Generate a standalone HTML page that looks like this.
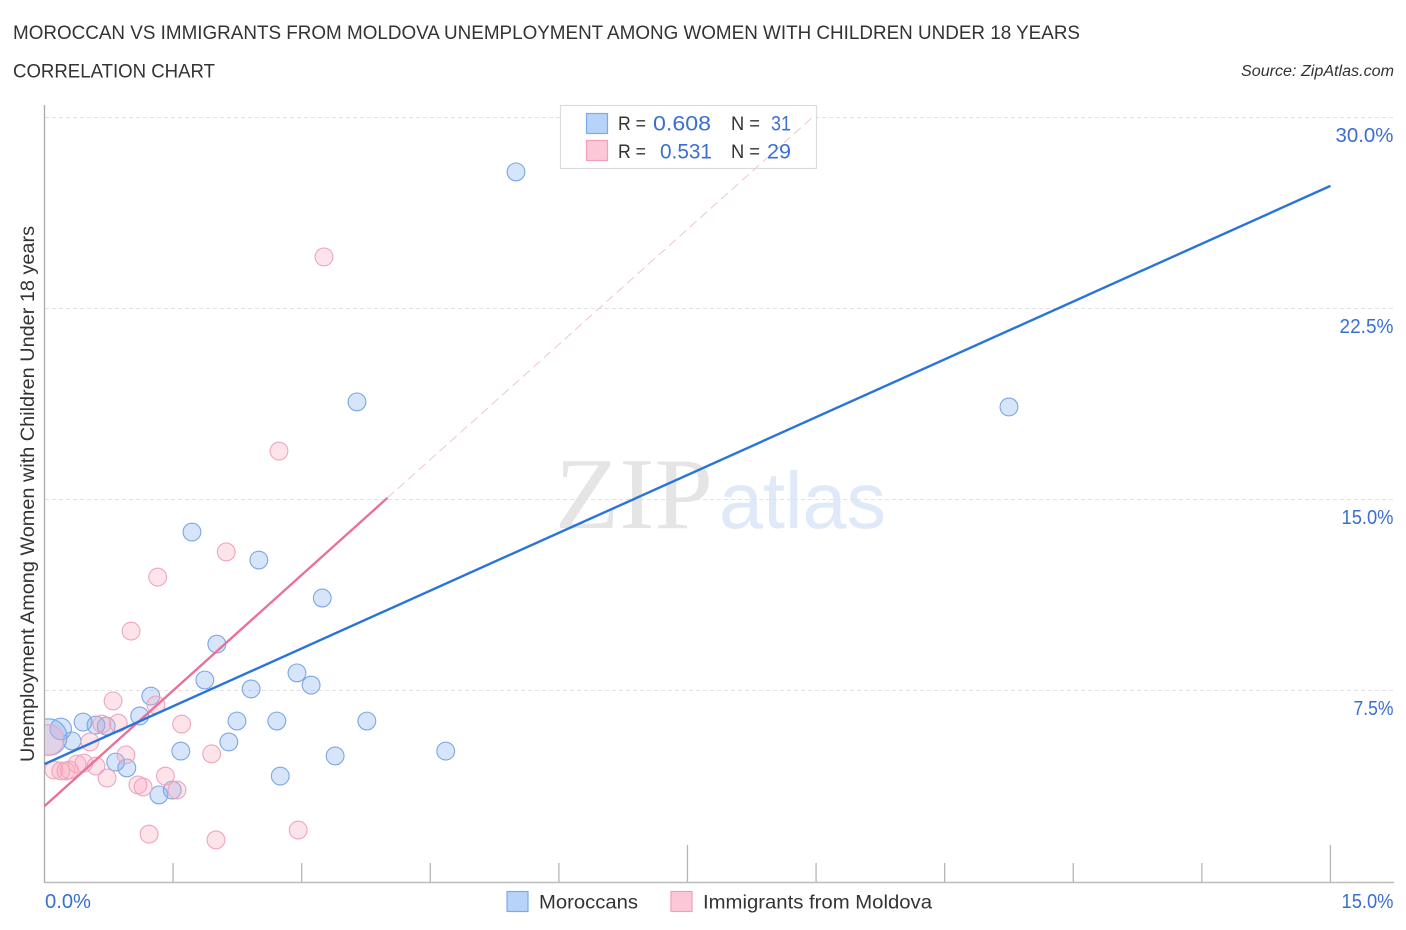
<!DOCTYPE html>
<html lang="en">
<head>
<meta charset="utf-8">
<title>Moroccan vs Immigrants from Moldova correlation chart</title>
<style>
html,body{margin:0;padding:0;background:#fff;width:1406px;height:930px;overflow:hidden}
svg{display:block}
text{font-family:"Liberation Sans",sans-serif}
</style>
</head>
<body>
<svg id="chart" xmlns="http://www.w3.org/2000/svg" width="1406" height="930" viewBox="0 0 1406 930">
  <rect x="0" y="0" width="1406" height="930" fill="#fff"/>
  <text x="13" y="39" font-size="19.5" fill="#333" textLength="1067" lengthAdjust="spacingAndGlyphs">MOROCCAN VS IMMIGRANTS FROM MOLDOVA UNEMPLOYMENT AMONG WOMEN WITH CHILDREN UNDER 18 YEARS</text>
  <text x="13" y="77.5" font-size="19.5" fill="#333" textLength="202" lengthAdjust="spacingAndGlyphs">CORRELATION CHART</text>
  <text x="1241" y="76" font-size="15.5" font-style="italic" fill="#333" textLength="153" lengthAdjust="spacingAndGlyphs">Source: ZipAtlas.com</text>
  <text transform="translate(34 762) rotate(-90)" x="0" y="0" font-size="19" fill="#333" textLength="536" lengthAdjust="spacingAndGlyphs">Unemployment Among Women with Children Under 18 years</text>

  <g>
    <text x="555" y="528" font-size="102" fill="#e5e5e5" style="font-family:'Liberation Serif',serif" textLength="158" lengthAdjust="spacingAndGlyphs">ZIP</text>
    <text x="719" y="528" font-size="80" fill="#dfe9f8" textLength="167" lengthAdjust="spacingAndGlyphs">atlas</text>
  </g>

  <g id="grid"></g>
  <rect x="560.5" y="105.5" width="256" height="63" fill="#fff" stroke="#dcdcdc" stroke-width="1.2"/>
  <g id="axes"></g>
  <g id="points"></g>
  <g id="trends"></g>
  <g id="labels"></g>

  <g>
    <rect x="586.5" y="113.5" width="21" height="20" fill="#b7d3f8" stroke="#7daae8" stroke-width="1.2"/>
    <rect x="586.5" y="140.5" width="21" height="20" fill="#fcc8d8" stroke="#f0a0bb" stroke-width="1.2"/>
    <text x="618" y="130" font-size="19.5" fill="#333" textLength="28" lengthAdjust="spacingAndGlyphs">R =</text>
    <text x="653" y="130.5" font-size="21" fill="#3a6fd0" textLength="58" lengthAdjust="spacingAndGlyphs">0.608</text>
    <text x="731" y="130" font-size="19.5" fill="#333" textLength="29" lengthAdjust="spacingAndGlyphs">N =</text>
    <text x="771" y="130.5" font-size="21" fill="#3a6fd0" textLength="20" lengthAdjust="spacingAndGlyphs">31</text>
    <text x="618" y="158" font-size="19.5" fill="#333" textLength="28" lengthAdjust="spacingAndGlyphs">R =</text>
    <text x="660" y="158.5" font-size="21" fill="#3a6fd0" textLength="52" lengthAdjust="spacingAndGlyphs">0.531</text>
    <text x="731" y="158" font-size="19.5" fill="#333" textLength="29" lengthAdjust="spacingAndGlyphs">N =</text>
    <text x="767" y="158.5" font-size="21" fill="#3a6fd0" textLength="24" lengthAdjust="spacingAndGlyphs">29</text>
  </g>

  <g>
    <rect x="507" y="891.5" width="21" height="20" fill="#b7d3f8" stroke="#7daae8" stroke-width="1.2"/>
    <text x="539" y="908.5" font-size="19.5" fill="#333" textLength="99" lengthAdjust="spacingAndGlyphs">Moroccans</text>
    <rect x="671" y="891.5" width="21" height="20" fill="#fcc8d8" stroke="#f0a0bb" stroke-width="1.2"/>
    <text x="703" y="908.5" font-size="19.5" fill="#333" textLength="229" lengthAdjust="spacingAndGlyphs">Immigrants from Moldova</text>
  </g>
</svg>
<script>
const yTickValues = [7.5, 15, 22.5, 30];
const yTickLabels = ["7.5%", "15.0%", "22.5%", "30.0%"];
const xTickValues = [1.5, 3, 4.5, 6, 7.5, 9, 10.5, 12, 13.5, 15];
const xMajorTicks = [7.5, 15];
const xEndLabels = ["0.0%", "15.0%"];

const moroccanX = [5.50, 11.25, 3.645, 1.72, 2.50, 3.24, 2.01, 1.87, 2.945, 3.11, 2.41, 1.24, 1.11, 0.45, 0.60, 0.72, 2.245, 2.71, 3.76, 0.19, 0.05, 0.32, 2.15, 1.59, 4.68, 3.39, 0.83, 0.96, 2.75, 1.335, 1.49];
const moroccanY = [27.88, 18.65, 18.85, 13.74, 12.64, 11.15, 9.34, 7.93, 8.21, 7.73, 7.58, 7.30, 6.52, 6.28, 6.16, 6.12, 6.32, 6.32, 6.32, 6.01, 5.69, 5.54, 5.50, 5.14, 5.14, 4.95, 4.71, 4.48, 4.16, 3.42, 3.61];
const moroccanWeight = [1, 1, 1, 1, 1, 1, 1, 1, 1, 1, 1, 1, 1, 1, 1, 1, 1, 1, 1, 1.45, 4.2, 1, 1, 1, 1, 1, 1, 1, 1, 1, 1];

const moldovaX = [3.26, 2.735, 2.12, 1.32, 1.01, 0.80, 1.30, 0.86, 0.67, 1.60, 0.53, 0.05, 1.95, 0.95, 0.11, 0.19, 0.25, 0.29, 0.38, 0.46, 0.60, 0.73, 1.09, 1.15, 1.41, 1.545, 1.22, 2.00, 2.96];
const moldovaY = [24.54, 16.92, 12.96, 11.97, 9.85, 7.11, 6.95, 6.24, 6.20, 6.20, 5.50, 5.58, 5.03, 4.99, 4.40, 4.36, 4.36, 4.40, 4.63, 4.67, 4.55, 4.08, 3.81, 3.73, 4.16, 3.61, 1.88, 1.65, 2.04];
const moldovaWeight = [1, 1, 1, 1, 1, 1, 1, 1, 1, 1, 1, 2.9, 1, 1, 1, 1, 1, 1, 1, 1, 1, 1, 1, 1, 1, 1, 1, 1, 1];

const moroccanTrendX = [0, 15];
const moroccanTrendY = [4.63, 27.33];
const moldovaTrendX = [0, 4];
const moldovaTrendY = [2.98, 15.08];
const moldovaProjectedX = [4, 8.95];
const moldovaProjectedY = [15.08, 30];

const NS = "http://www.w3.org/2000/svg";
function xScale(v) { return 44.5 + v * 85.73; }
function yScale(v) { return 882 - v * 25.47; }
function rScale(w) { return 8.9 * Math.sqrt(w); }
function labelWidth(s) {
  let w = 0;
  for (const ch of s) {
    if (ch === "%") w += 17;
    else if (ch === ".") w += 5;
    else if (ch === "1") w += 7;
    else if (ch === "7") w += 7;
    else if (ch === "2") w += 10.5;
    else if (ch === "5") w += 11;
    else w += 12;
  }
  return w;
}
function make(tag, attrs, parent) {
  const el = document.createElementNS(NS, tag);
  for (const k in attrs) el.setAttribute(k, attrs[k]);
  parent.appendChild(el);
  return el;
}

const defs = make("defs", {}, document.getElementById("chart"));
const clip = make("clipPath", { id: "plot-clip" }, defs);
make("rect", { x: 45, y: 100, width: 1360, height: 782 }, clip);

const gridG = document.getElementById("grid");
yTickValues.forEach(function (v) {
  const gy = Math.floor(yScale(v)) + 0.5;
  const line = make("line", { x1: 45, x2: 1394, y1: gy, y2: gy, stroke: "#e2e2e2", "stroke-width": 1, "stroke-dasharray": "4 3" }, gridG);
  
  
});

const axesG = document.getElementById("axes");
const yAxis = make("line", { x1: 44.5, x2: 44.5, y1: 105, y2: 883, stroke: "#aaa", "stroke-width": 1.3 }, axesG);


const xAxis = make("line", { x1: 44, x2: 1394, y1: 882.5, y2: 882.5, stroke: "#bbb", "stroke-width": 1.6 }, axesG);


xTickValues.forEach(function (v) {
  const major = xMajorTicks.indexOf(v) >= 0;
  const tick = make("line", { x1: xScale(v), x2: xScale(v), y1: major ? 845 : 863, y2: 882, stroke: "#b5b5b5", "stroke-width": 1.3 }, axesG);
  
  
});

const pointsG = document.getElementById("points");
pointsG.setAttribute("clip-path", "url(#plot-clip)");
moroccanX.forEach(function (v, i) {
  const c = make("circle", { cx: xScale(v), cy: yScale(moroccanY[i]), r: rScale(moroccanWeight[i]), fill: "rgba(120,170,240,0.3)", stroke: "#7ba7e4", "stroke-width": 1.1 }, pointsG);
  
  
});
moldovaX.forEach(function (v, i) {
  const c = make("circle", { cx: xScale(v), cy: yScale(moldovaY[i]), r: rScale(moldovaWeight[i]), fill: "rgba(248,165,190,0.3)", stroke: "#f0a4bc", "stroke-width": 1.1 }, pointsG);
  
  
});

const trendsG = document.getElementById("trends");
const projected = make("line", { x1: xScale(moldovaProjectedX[0]), y1: yScale(moldovaProjectedY[0]), x2: xScale(moldovaProjectedX[1]), y2: yScale(moldovaProjectedY[1]), stroke: "#f0c4d2", "stroke-width": 1, "stroke-dasharray": "9 5" }, trendsG);


const moldovaLine = make("line", { x1: xScale(moldovaTrendX[0]), y1: yScale(moldovaTrendY[0]), x2: xScale(moldovaTrendX[1]), y2: yScale(moldovaTrendY[1]), stroke: "#e8719c", "stroke-width": 2.4 }, trendsG);


const moroccanLine = make("line", { x1: xScale(moroccanTrendX[0]), y1: yScale(moroccanTrendY[0]), x2: xScale(moroccanTrendX[1]), y2: yScale(moroccanTrendY[1]), stroke: "#2a74d8", "stroke-width": 2.4 }, trendsG);



const labelsG = document.getElementById("labels");
yTickLabels.forEach(function (s, i) {
  const t = make("text", { x: 1393.5, y: yScale(yTickValues[i]) + 24, "text-anchor": "end", "font-size": 20, fill: "#3a6fd0", textLength: labelWidth(s), lengthAdjust: "spacingAndGlyphs" }, labelsG);
  t.textContent = s;
  
  
});
const xStart = make("text", { x: 45, y: 908, "font-size": 20, fill: "#3a6fd0", textLength: labelWidth(xEndLabels[0]), lengthAdjust: "spacingAndGlyphs" }, labelsG);
xStart.textContent = xEndLabels[0];


const xEnd = make("text", { x: 1393.5, y: 908, "text-anchor": "end", "font-size": 20, fill: "#3a6fd0", textLength: labelWidth(xEndLabels[1]), lengthAdjust: "spacingAndGlyphs" }, labelsG);
xEnd.textContent = xEndLabels[1];


</script>
</body>
</html>
